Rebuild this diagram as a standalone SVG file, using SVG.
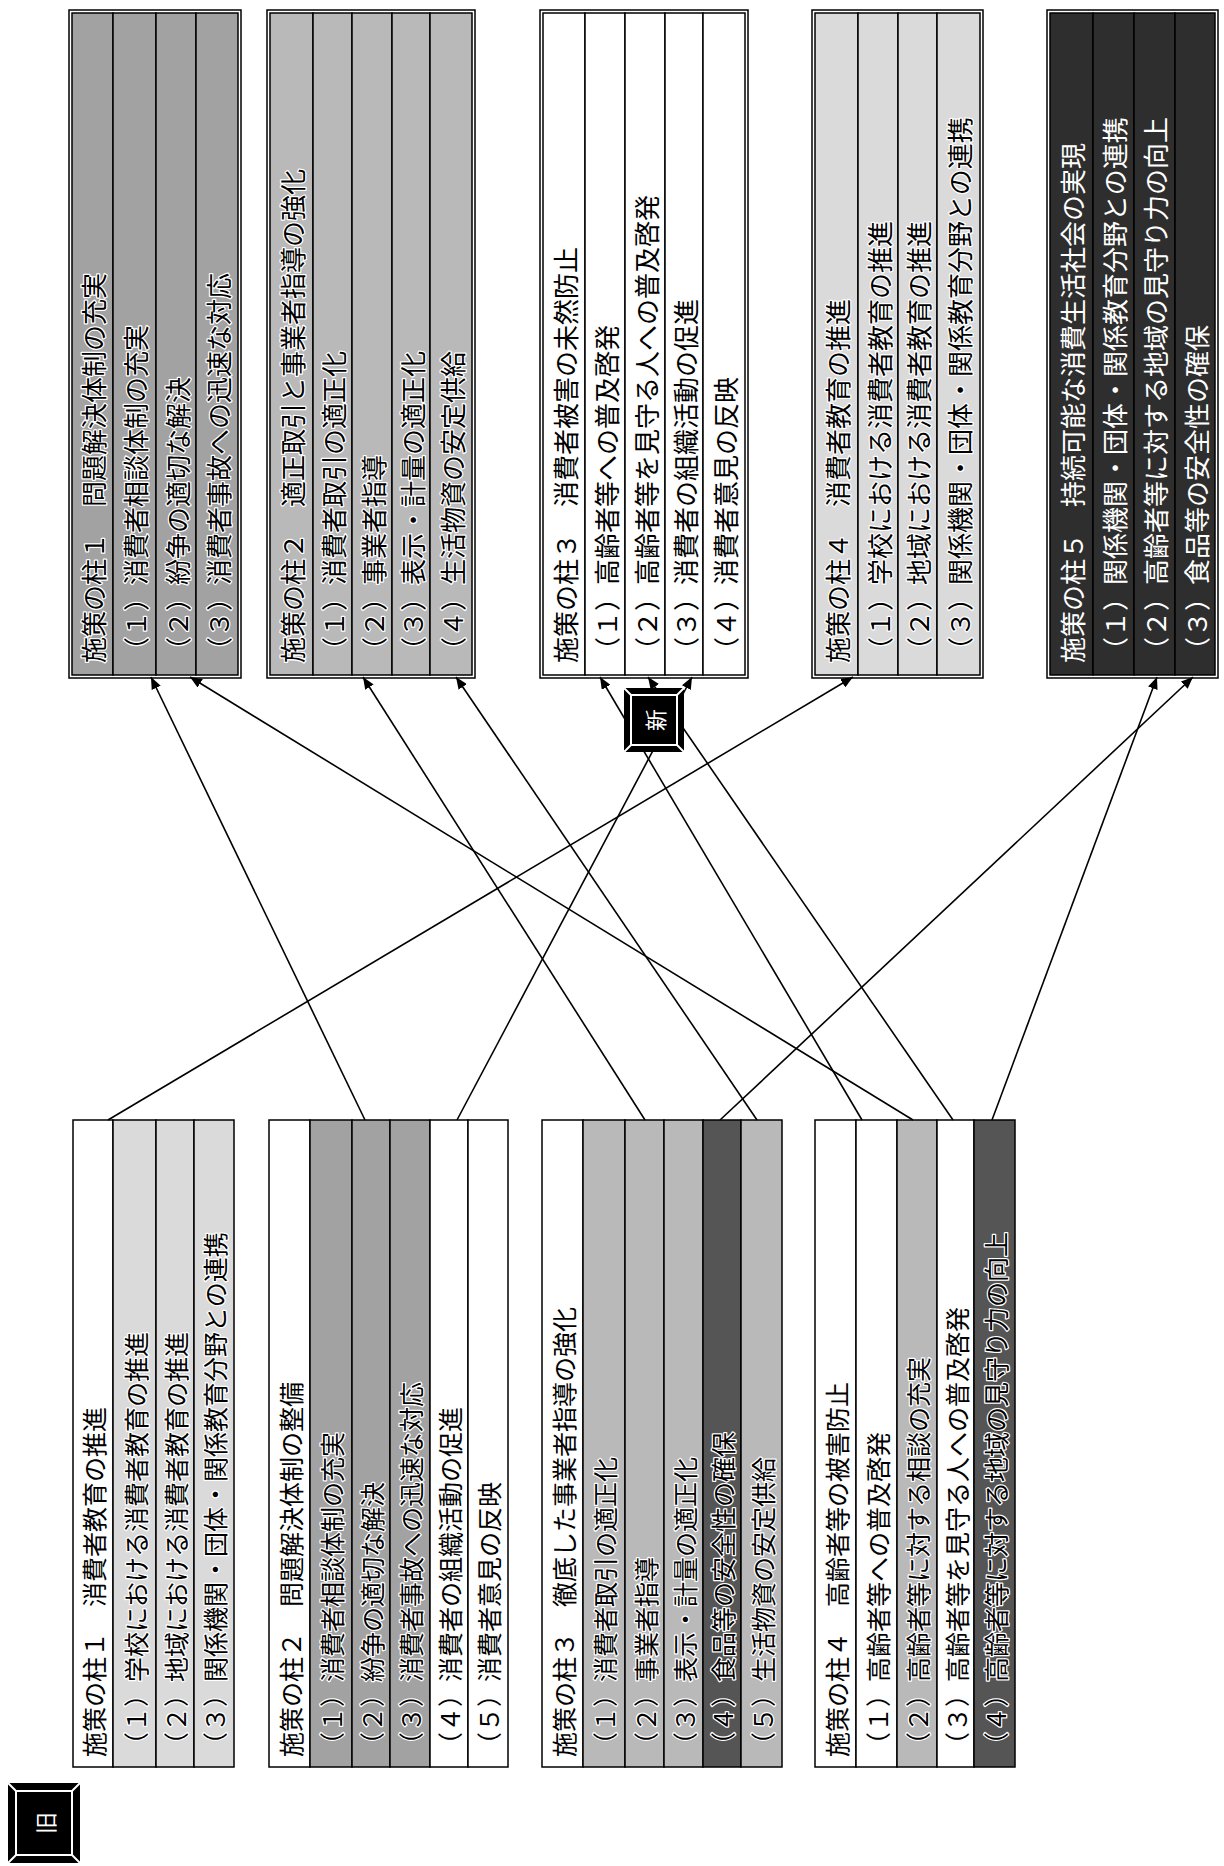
<svg xmlns="http://www.w3.org/2000/svg" width="1224" height="1866" viewBox="0 0 1224 1866">
<defs>
<style>
.bx{stroke:#000;stroke-width:1.5}
.w{fill:#fff}.l{fill:#dadada}.m{fill:#b9b9b9}.md{fill:#a2a2a2}.d{fill:#555}.k{fill:#2e2e2e}
.o{fill:none;stroke:#000;stroke-width:1.5}
.t{font-family:"Noto Sans CJK JP","Noto Sans CJK SC",sans-serif;font-size:25px;fill:#000;dominant-baseline:central}
.tn{font-family:"Noto Sans CJK JP","Noto Sans CJK SC",sans-serif;font-size:26px;fill:#000;dominant-baseline:central}
.wt{fill:#fff}
.halo{stroke:#fff;stroke-width:2.5;paint-order:stroke;stroke-linejoin:round}
.cn{stroke:#000;stroke-width:1.6;fill:none;marker-end:url(#ah)}
.lab{font-family:"Noto Sans CJK JP",sans-serif;font-size:22px;fill:#fff;dominant-baseline:central;text-anchor:middle}
</style>
<marker id="ah" viewBox="0 0 12 10" refX="12" refY="5" markerWidth="12" markerHeight="10" markerUnits="userSpaceOnUse" orient="auto">
<path d="M0,0 L12,5 L0,10 z" fill="#000"/>
</marker>
</defs>
<rect width="1224" height="1866" fill="#fff"/>

<g id="label-old">
<rect x="8" y="1783" width="72" height="80" fill="#000"/>
<rect x="16" y="1791" width="56" height="64" fill="none" stroke="#fff" stroke-width="2"/>
<path d="M8,1783 L16,1791 M80,1783 L72,1791 M8,1863 L16,1855 M80,1863 L72,1855" stroke="#fff" stroke-width="2"/>
<text class="lab" transform="translate(44,1823) rotate(-90)">旧</text>
</g>

<g id="new1">
<rect class="bx md" x="72" y="13" width="41" height="662"/>
<rect class="bx md" x="113" y="13" width="43" height="662"/>
<rect class="bx md" x="156" y="13" width="40" height="662"/>
<rect class="bx md" x="196" y="13" width="42" height="662"/>
<rect class="o" x="69" y="10" width="172" height="668"/>
<text class="tn halo" transform="translate(92.5,663) rotate(-90)">施策の柱１　問題解決体制の充実</text>
<text class="tn halo" transform="translate(134.5,663) rotate(-90)">（１）消費者相談体制の充実</text>
<text class="tn halo" transform="translate(176,663) rotate(-90)">（２）紛争の適切な解決</text>
<text class="tn halo" transform="translate(217,663) rotate(-90)">（３）消費者事故への迅速な対応</text>
</g>

<g id="new2">
<rect class="bx m" x="270" y="13" width="43" height="662"/>
<rect class="bx m" x="313" y="13" width="39" height="662"/>
<rect class="bx m" x="352" y="13" width="40" height="662"/>
<rect class="bx m" x="392" y="13" width="38" height="662"/>
<rect class="bx m" x="430" y="13" width="42" height="662"/>
<rect class="o" x="267" y="10" width="208" height="668"/>
<text class="tn halo" transform="translate(291.5,663) rotate(-90)">施策の柱２　適正取引と事業者指導の強化</text>
<text class="tn halo" transform="translate(332.5,663) rotate(-90)">（１）消費者取引の適正化</text>
<text class="tn halo" transform="translate(372,663) rotate(-90)">（２）事業者指導</text>
<text class="tn halo" transform="translate(411,663) rotate(-90)">（３）表示・計量の適正化</text>
<text class="tn halo" transform="translate(451,663) rotate(-90)">（４）生活物資の安定供給</text>
</g>

<g id="new3">
<rect class="bx w" x="543" y="13" width="42" height="662"/>
<rect class="bx w" x="585" y="13" width="40" height="662"/>
<rect class="bx w" x="625" y="13" width="40" height="662"/>
<rect class="bx w" x="665" y="13" width="38" height="662"/>
<rect class="bx w" x="703" y="13" width="42" height="662"/>
<rect class="o" x="540" y="10" width="208" height="668"/>
<text class="tn" transform="translate(564,663) rotate(-90)">施策の柱３　消費者被害の未然防止</text>
<text class="tn" transform="translate(605,663) rotate(-90)">（１）高齢者等への普及啓発</text>
<text class="tn" transform="translate(645,663) rotate(-90)">（２）高齢者等を見守る人への普及啓発</text>
<text class="tn" transform="translate(684,663) rotate(-90)">（３）消費者の組織活動の促進</text>
<text class="tn" transform="translate(724,663) rotate(-90)">（４）消費者意見の反映</text>
</g>

<g id="new4">
<rect class="bx l" x="815" y="13" width="43" height="662"/>
<rect class="bx l" x="858" y="13" width="40" height="662"/>
<rect class="bx l" x="898" y="13" width="39" height="662"/>
<rect class="bx l" x="937" y="13" width="43" height="662"/>
<rect class="o" x="812" y="10" width="171" height="668"/>
<text class="tn halo" transform="translate(836.5,663) rotate(-90)">施策の柱４　消費者教育の推進</text>
<text class="tn halo" transform="translate(878,663) rotate(-90)">（１）学校における消費者教育の推進</text>
<text class="tn halo" transform="translate(917.5,663) rotate(-90)">（２）地域における消費者教育の推進</text>
<text class="tn halo" transform="translate(958.5,663) rotate(-90)">（３）関係機関・団体・関係教育分野との連携</text>
</g>

<g id="new5">
<rect class="bx k" x="1050" y="13" width="43" height="662"/>
<rect class="bx k" x="1093" y="13" width="41" height="662"/>
<rect class="bx k" x="1134" y="13" width="41" height="662"/>
<rect class="bx k" x="1175" y="13" width="40" height="662"/>
<rect class="o" x="1047" y="10" width="171" height="668"/>
<text class="tn wt" transform="translate(1071.5,663) rotate(-90)">施策の柱５　持続可能な消費生活社会の実現</text>
<text class="tn wt" transform="translate(1113.5,663) rotate(-90)">（１）関係機関・団体・関係教育分野との連携</text>
<text class="tn wt" transform="translate(1154.5,663) rotate(-90)">（２）高齢者等に対する地域の見守り力の向上</text>
<text class="tn wt" transform="translate(1195,663) rotate(-90)">（３）食品等の安全性の確保</text>
</g>

<g id="old1">
<rect class="bx w" x="73" y="1120" width="40" height="647"/>
<rect class="bx l" x="113" y="1120" width="43" height="647"/>
<rect class="bx l" x="156" y="1120" width="38" height="647"/>
<rect class="bx l" x="194" y="1120" width="40" height="647"/>
<text class="t" transform="translate(93,1757) rotate(-90)">施策の柱１　消費者教育の推進</text>
<text class="t halo" transform="translate(134.5,1757) rotate(-90)">（１）学校における消費者教育の推進</text>
<text class="t halo" transform="translate(175,1757) rotate(-90)">（２）地域における消費者教育の推進</text>
<text class="t halo" transform="translate(214,1757) rotate(-90)">（３）関係機関・団体・関係教育分野との連携</text>
</g>

<g id="old2">
<rect class="bx w" x="269" y="1120" width="41" height="647"/>
<rect class="bx md" x="310" y="1120" width="42" height="647"/>
<rect class="bx md" x="352" y="1120" width="38" height="647"/>
<rect class="bx md" x="390" y="1120" width="40" height="647"/>
<rect class="bx w" x="430" y="1120" width="38" height="647"/>
<rect class="bx w" x="468" y="1120" width="40" height="647"/>
<text class="t" transform="translate(289.5,1757) rotate(-90)">施策の柱２　問題解決体制の整備</text>
<text class="t halo" transform="translate(331,1757) rotate(-90)">（１）消費者相談体制の充実</text>
<text class="t halo" transform="translate(371,1757) rotate(-90)">（２）紛争の適切な解決</text>
<text class="t halo" transform="translate(410,1757) rotate(-90)">（３）消費者事故への迅速な対応</text>
<text class="t" transform="translate(449,1757) rotate(-90)">（４）消費者の組織活動の促進</text>
<text class="t" transform="translate(488,1757) rotate(-90)">（５）消費者意見の反映</text>
</g>

<g id="old3">
<rect class="bx w" x="542" y="1120" width="41" height="647"/>
<rect class="bx m" x="583" y="1120" width="42" height="647"/>
<rect class="bx m" x="625" y="1120" width="39" height="647"/>
<rect class="bx m" x="664" y="1120" width="39" height="647"/>
<rect class="bx d" x="703" y="1120" width="38" height="647"/>
<rect class="bx m" x="741" y="1120" width="41" height="647"/>
<text class="t" transform="translate(562.5,1757) rotate(-90)">施策の柱３　徹底した事業者指導の強化</text>
<text class="t halo" transform="translate(604,1757) rotate(-90)">（１）消費者取引の適正化</text>
<text class="t halo" transform="translate(644.5,1757) rotate(-90)">（２）事業者指導</text>
<text class="t halo" transform="translate(683.5,1757) rotate(-90)">（３）表示・計量の適正化</text>
<text class="t halo" transform="translate(722,1757) rotate(-90)">（４）食品等の安全性の確保</text>
<text class="t halo" transform="translate(761.5,1757) rotate(-90)">（５）生活物資の安定供給</text>
</g>

<g id="old4">
<rect class="bx w" x="815" y="1120" width="41" height="647"/>
<rect class="bx w" x="856" y="1120" width="41" height="647"/>
<rect class="bx m" x="897" y="1120" width="40" height="647"/>
<rect class="bx w" x="937" y="1120" width="37" height="647"/>
<rect class="bx d" x="974" y="1120" width="41" height="647"/>
<text class="t" transform="translate(835.5,1757) rotate(-90)">施策の柱４　高齢者等の被害防止</text>
<text class="t" transform="translate(876.5,1757) rotate(-90)">（１）高齢者等への普及啓発</text>
<text class="t halo" transform="translate(917,1757) rotate(-90)">（２）高齢者等に対する相談の充実</text>
<text class="t" transform="translate(955.5,1757) rotate(-90)">（３）高齢者等を見守る人への普及啓発</text>
<text class="t halo" transform="translate(994.5,1757) rotate(-90)">（４）高齢者等に対する地域の見守り力の向上</text>
</g>

<g id="connectors">
<line class="cn" x1="108" y1="1120" x2="853" y2="677"/>
<line class="cn" x1="365" y1="1120" x2="151" y2="677"/>
<line class="cn" x1="457" y1="1120" x2="692" y2="677"/>
<line class="cn" x1="645" y1="1120" x2="363" y2="677"/>
<line class="cn" x1="720" y1="1120" x2="1193" y2="677"/>
<line class="cn" x1="757" y1="1120" x2="456" y2="677"/>
<line class="cn" x1="862" y1="1120" x2="600" y2="677"/>
<line class="cn" x1="913" y1="1120" x2="190" y2="677"/>
<line class="cn" x1="953" y1="1120" x2="648" y2="677"/>
<line class="cn" x1="992" y1="1120" x2="1157" y2="677"/>
</g>

<g id="label-new">
<rect x="624" y="688" width="60" height="64" fill="#000"/>
<rect x="631" y="695" width="46" height="50" fill="none" stroke="#fff" stroke-width="2"/>
<path d="M624,688 L631,695 M684,688 L677,695 M624,752 L631,745 M684,752 L677,745" stroke="#fff" stroke-width="2"/>
<text class="lab" transform="translate(654,720) rotate(-90)">新</text>
</g>
</svg>
